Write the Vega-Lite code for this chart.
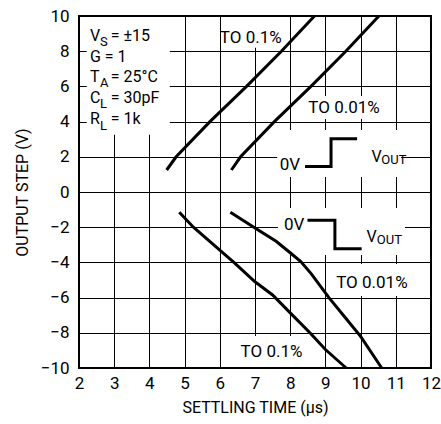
{
  "$schema": "https://vega.github.io/schema/vega-lite/v6.json",
  "width": 352,
  "height": 352,
  "autosize": "none",
  "padding": {"left": 79, "top": 16, "right": 10, "bottom": 56},
  "background": "white",
  "config": {
    "font": "Roboto",
    "view": {"stroke": "#000", "strokeWidth": 2},
    "axis": {
      "grid": true, "gridColor": "#000", "gridWidth": 1, "gridOpacity": 1,
      "domain": false, "ticks": false,
      "labelFont": "Roboto", "labelFontSize": 17, "labelColor": "#000",
      "labelFlush": false, "labelOverlap": false,
      "titleFont": "Roboto", "titleFontSize": 16, "titleFontWeight": "normal", "titleColor": "#000"
    },
    "text": {"font": "Roboto", "color": "#000"}
  },
  "datasets": {
    "curves": [
      {"series": "top01", "t": 4.49, "v": 1.25}, {"series": "top01", "t": 4.76, "v": 2}, {"series": "top01", "t": 5.72, "v": 4}, {"series": "top01", "t": 6.76, "v": 6}, {"series": "top01", "t": 7.75, "v": 8}, {"series": "top01", "t": 8.69, "v": 10},
      {"series": "top001", "t": 6.33, "v": 1.25}, {"series": "top001", "t": 6.59, "v": 2}, {"series": "top001", "t": 7.55, "v": 4}, {"series": "top001", "t": 8.59, "v": 6}, {"series": "top001", "t": 9.58, "v": 8}, {"series": "top001", "t": 10.52, "v": 10},
      {"series": "bot01", "t": 4.85, "v": -1.15}, {"series": "bot01", "t": 5.25, "v": -2}, {"series": "bot01", "t": 6.0, "v": -3.3}, {"series": "bot01", "t": 6.4, "v": -4}, {"series": "bot01", "t": 7.0, "v": -5.1}, {"series": "bot01", "t": 7.5, "v": -5.85}, {"series": "bot01", "t": 8.0, "v": -6.87}, {"series": "bot01", "t": 8.56, "v": -8}, {"series": "bot01", "t": 9.0, "v": -8.95}, {"series": "bot01", "t": 9.59, "v": -10},
      {"series": "bot001", "t": 6.3, "v": -1.15}, {"series": "bot001", "t": 7.0, "v": -2.05}, {"series": "bot001", "t": 7.6, "v": -2.8}, {"series": "bot001", "t": 8.0, "v": -3.45}, {"series": "bot001", "t": 8.3, "v": -3.95}, {"series": "bot001", "t": 8.6, "v": -4.65}, {"series": "bot001", "t": 9.1, "v": -6}, {"series": "bot001", "t": 9.55, "v": -7.1}, {"series": "bot001", "t": 10.0, "v": -8.2}, {"series": "bot001", "t": 10.6, "v": -10}
    ],
    "steps": [
      {"grp": "up", "o": 1, "t": 8.42, "v": 1.45}, {"grp": "up", "o": 2, "t": 9.16, "v": 1.45}, {"grp": "up", "o": 3, "t": 9.16, "v": 3.03}, {"grp": "up", "o": 4, "t": 9.9, "v": 3.03},
      {"grp": "down", "o": 1, "t": 8.49, "v": -1.61}, {"grp": "down", "o": 2, "t": 9.27, "v": -1.61}, {"grp": "down", "o": 3, "t": 9.27, "v": -3.22}, {"grp": "down", "o": 4, "t": 10.03, "v": -3.22}
    ],
    "boxes": [
      {"t": 2.22, "t2": 4.58, "v": 3.25, "v2": 9.95},
      {"t": 6.05, "t2": 7.88, "v": 8.2, "v2": 9.95},
      {"t": 8.42, "t2": 10.64, "v": 4.15, "v2": 5.45},
      {"t": 7.63, "t2": 11.15, "v": 0.85, "v2": 3.52},
      {"t": 7.65, "t2": 11.26, "v": -3.58, "v2": -0.91},
      {"t": 9.25, "t2": 11.4, "v": -5.91, "v2": -4.09},
      {"t": 6.49, "t2": 8.45, "v": -9.95, "v2": -8.18}
    ],
    "labels": [
      {"t": 6.88, "v": 8.48, "label": "TO 0.1%"},
      {"t": 9.53, "v": 4.47, "label": "TO 0.01%"},
      {"t": 10.32, "v": -5.47, "label": "TO 0.01%"},
      {"t": 7.47, "v": -9.36, "label": "TO 0.1%"},
      {"t": 7.99, "v": 1.25, "label": "0V"},
      {"t": 8.11, "v": -2.16, "label": "0V"}
    ],
    "mainText": [
      {"t": 2.31, "v": 8.6, "label": "V"},
      {"t": 2.31, "v": 7.4, "label": "G = 1"},
      {"t": 2.31, "v": 6.27, "label": "T"},
      {"t": 2.31, "v": 5.04, "label": "C"},
      {"t": 2.31, "v": 3.85, "label": "R"},
      {"t": 2.9, "v": 8.6, "label": "= ±15"},
      {"t": 2.9, "v": 6.27, "label": "= 25°C"},
      {"t": 2.9, "v": 5.04, "label": "= 30pF"},
      {"t": 2.9, "v": 3.85, "label": "= 1k"},
      {"t": 10.31, "v": 1.72, "label": "V"},
      {"t": 10.17, "v": -2.82, "label": "V"}
    ],
    "subText": [
      {"t": 2.6, "v": 8.3, "label": "S"},
      {"t": 2.6, "v": 5.98, "label": "A"},
      {"t": 2.6, "v": 4.76, "label": "L"},
      {"t": 2.6, "v": 3.52, "label": "L"},
      {"t": 10.59, "v": 1.57, "label": "OUT"},
      {"t": 10.46, "v": -2.97, "label": "OUT"}
    ]
  },
  "encoding": {
    "x": {
      "field": "t", "type": "quantitative",
      "scale": {"domain": [2, 12], "nice": false, "zero": false},
      "axis": {"values": [2, 3, 4, 5, 6, 7, 8, 9, 10, 11, 12], "title": "SETTLING TIME (µs)", "labelPadding": 7, "titleY": 44, "titleBaseline": "alphabetic"}
    },
    "y": {
      "field": "v", "type": "quantitative",
      "scale": {"domain": [-10, 10], "nice": false, "zero": false},
      "axis": {"values": [-10, -8, -6, -4, -2, 0, 2, 4, 6, 8, 10], "title": "OUTPUT STEP (V)", "labelPadding": 10, "titleX": -52, "titleY": 176, "titleAngle": -90, "titleBaseline": "alphabetic", "titleAlign": "center"}
    }
  },
  "layer": [
    {
      "data": {"name": "boxes"},
      "mark": {"type": "rect", "fill": "white", "stroke": null},
      "encoding": {"x2": {"field": "t2"}, "y2": {"field": "v2"}}
    },
    {
      "data": {"name": "curves"},
      "mark": {"type": "line", "color": "#000", "strokeWidth": 3},
      "encoding": {"detail": {"field": "series"}}
    },
    {
      "data": {"name": "steps"},
      "mark": {"type": "line", "color": "#000", "strokeWidth": 3, "strokeJoin": "miter"},
      "encoding": {"detail": {"field": "grp"}, "order": {"field": "o"}}
    },
    {
      "data": {"name": "labels"},
      "mark": {"type": "text", "fontSize": 17, "align": "center", "baseline": "alphabetic"},
      "encoding": {"text": {"field": "label"}}
    },
    {
      "data": {"name": "mainText"},
      "mark": {"type": "text", "fontSize": 16, "align": "left", "baseline": "alphabetic"},
      "encoding": {"text": {"field": "label"}}
    },
    {
      "data": {"name": "subText"},
      "mark": {"type": "text", "fontSize": 13, "align": "left", "baseline": "alphabetic"},
      "encoding": {"text": {"field": "label"}}
    }
  ]
}
